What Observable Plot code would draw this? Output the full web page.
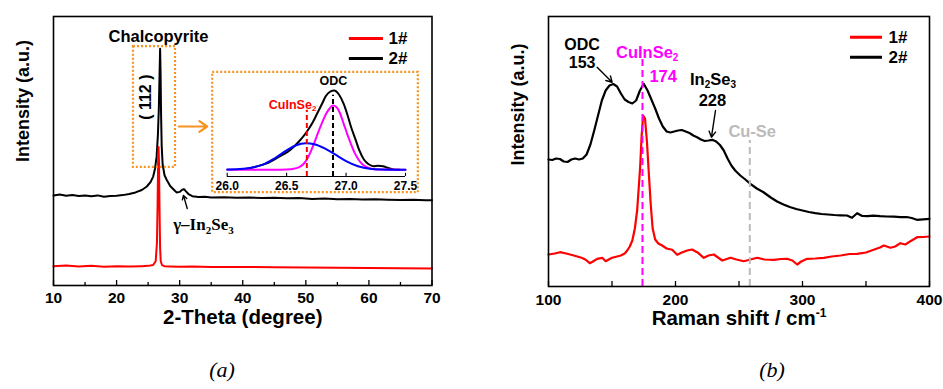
<!DOCTYPE html>
<html>
<head>
<meta charset="utf-8">
<script src="https://cdn.jsdelivr.net/npm/d3@7"></script>
<script src="https://cdn.jsdelivr.net/npm/@observablehq/plot@0.6"></script>
<style>
  html, body { margin: 0; padding: 0; background: white; }
  #wrap { position: relative; width: 943px; height: 389px; overflow: hidden; background: white; }
  #wrap svg { position: absolute; }
  .cap { position: absolute; font-family: "Liberation Serif", "Times New Roman", serif; font-style: italic; font-size: 22px; transform: translate(-50%, -50%); }
</style>
</head>
<body>
<div id="wrap"></div>
<script>
// ---------------- DATA ----------------
// (a) XRD, 2-Theta (degree) vs intensity (a.u.)
const xrd2X = [10,11,12,13,14,15,16,17,18,19,20,21,22,23,24,24.8,25.4,25.8,26.1,26.35,26.55,26.7,26.8,26.9,26.98,27.05,27.15,27.3,27.6,28.0,28.5,29.0,29.5,30.0,30.4,30.7,31.0,31.4,32,33,34,35,37,39,41,43,45,47,49,51,53,55,57,59,61,63,65,67,69,70];
const xrd2Y = [33.5,33.8,33.4,33.6,33.3,33.5,33.2,33.5,33.0,33.3,33.4,33.6,34.0,34.6,35.5,36.8,38.5,40.5,43.5,48,56,66,77,88,78,64,52,45,41,39,37,35.8,34.6,34.8,35.6,35.8,35.0,34.0,33.2,32.9,33.0,32.7,32.8,32.6,32.7,32.5,32.6,32.4,32.5,32.2,32.3,32.1,32.2,32.0,32.1,31.9,31.8,31.9,31.7,31.7];
const xrd1X = [10,12,14,16,18,20,22,24,25,25.8,26.2,26.4,26.5,26.58,26.65,26.72,26.8,26.9,27.0,27.2,27.6,28.5,30,32,35,40,45,50,55,60,65,70];
const xrd1Y = [7.2,7.4,7.1,7.3,7.0,7.2,7.1,7.2,7.3,7.6,9,16,30,45,51.5,46,30,14,9,7.6,7.2,7.1,7.0,7.1,6.9,6.9,6.8,6.7,6.6,6.5,6.4,6.3];
const xrdTicks = [10,20,30,40,50,60,70];
const xrdMinor = [15,25,35,45,55,65];

// (a) inset: peak fit 26.0 - 27.5
const fitX_black = [26.15,26.22,26.28,26.35,26.42,26.48,26.53,26.60,26.67,26.72,26.76,26.80,26.83,26.87,26.90,26.94,26.98,27.01,27.04,27.08,27.11,27.15,27.19,27.23,27.27,27.31,27.35,27.40,27.45];
const fitY_black = [0.01,0.03,0.055,0.09,0.15,0.20,0.25,0.35,0.48,0.60,0.72,0.84,0.93,0.99,1.00,0.95,0.83,0.70,0.55,0.38,0.25,0.13,0.07,0.045,0.05,0.045,0.025,0.005,0.0];
const fitX_odc = [26.0,26.4,26.5,26.56,26.60,26.64,26.67,26.70,26.73,26.76,26.80,26.83,26.86,26.89,26.92,26.95,26.98,27.01,27.04,27.07,27.10,27.13,27.17,27.22,27.30,27.5];
const fitY_odc = [0,0,0.003,0.012,0.03,0.07,0.13,0.22,0.33,0.45,0.60,0.70,0.77,0.81,0.79,0.71,0.58,0.45,0.33,0.22,0.14,0.08,0.035,0.01,0.002,0];
const fitX_cis = [26.0,26.1,26.2,26.3,26.4,26.5,26.58,26.66,26.74,26.82,26.9,27.0,27.1,27.2,27.3,27.4,27.5];
const fitY_cis = [0.004,0.01,0.026,0.065,0.145,0.245,0.31,0.335,0.32,0.27,0.20,0.11,0.045,0.012,0.003,0.001,0.0];
const insetTicks = [26.0,26.5,27.0,27.5];
const insetLines = [{x: 26.67, top: 0.75, color: "#ff0000"}, {x: 26.89, top: 0.94, color: "#000000"}];

// (b) Raman shift / cm-1 vs intensity (a.u.)
const ram2X = [100,103,106,109,112,115,118,121,124,127,130,133,136,139,142,145,148,151,154,157,160,163,166,169,172,175,178,181,184,187,190,193,196,199,202,205,208,211,214,217,220,223,226,229,232,235,238,241,244,247,251,255,259,264,269,275,280,285,290,295,300,305,310,315,320,325,330,335,339,343,347,351,356,361,366,372,377,382,386,390,395,400];
const ram2Y = [127,126.5,128,127.5,125,124.5,127,128,127,128,132,142,156,171,186,196,201,202.5,200,193,187,184.5,183,186,196,202.7,196,187,178,168,160,155,154,155,156,156.5,155,153.5,151,149.3,147,145.5,146,146.7,145,141.5,136,128,121,116,111,107,102.7,98,94.5,89,85,82,79.5,77.5,76,74.5,73.3,72.5,72,71.5,71.2,71,68.7,73.3,70.5,70.3,70.8,70.3,70,69.8,69.3,69.5,68.5,66.7,67.2,67.7];
const ram1X = [100,105,109,114,120,126,129,132.5,135,138.3,142.3,145,150,154,157,160,162,164,166,168,169.8,171,172.2,173.3,174.5,176,177.5,179,180.5,182,184,186.5,189.5,193,197.4,201.3,205,209.2,213,217.1,222.3,226,230.2,236.8,243.3,248,253.8,259,264.3,270,277.4,283,287.9,292,295.8,299,303.7,310,316.8,323,330,337,343,350,356,361,364,369.3,373,377,381,385,390.3,395,400];
const ram1Y = [32,33,34.3,33,31,28.7,27,23.3,25,27.7,28.7,25.3,28.7,30,31,33,36,40,46,58,76,98,120,150,171,168,145,113,82,58,47,43,41,38,36.7,31.7,34,36,37,34.3,28.7,31,32,26,28.7,27,25.3,27,28.7,27,26.7,27.5,27.7,26,22,25,27.7,28,28.7,30,31,32.5,32.7,34,36.7,39,41,38.7,40,43.3,42,45.3,49.3,49.5,50];
const ramTicks = [100,200,300,400];
const ramMinor = [150,250,350];
const ramLines = [{x: 174, top: 229, color: "#ff00ff"}, {x: 258.5, top: 146, color: "#bbbbbb"}];

const seriesNames = ["1#", "2#"];
const seriesColors = ["#ff0000", "#000000"];

// ---------------- HELPERS ----------------
const SANS = '"Liberation Sans", Arial, Helvetica, sans-serif';
const SERIF = '"Liberation Serif", "Times New Roman", serif';
const ORANGE = "#f7931e";
const ctx = document.createElement("canvas").getContext("2d");

// rich text: pieces [{t, s (subscript), S (superscript)}]
function rich(pieces, o) {
  const size = o.size, small = o.subSize ?? Math.round(size * 0.62);
  const fam = o.family ?? SANS, wt = o.weight ?? "bold", st = o.style ?? "normal";
  const ws = pieces.map(p => { ctx.font = `${st} ${wt} ${(p.s || p.S) ? small : size}px ${fam}`; return ctx.measureText(p.t).width; });
  const tot = d3.sum(ws);
  let off = o.anchor === "start" ? 0 : o.anchor === "end" ? -tot : -tot / 2;
  return pieces.map((p, i) => {
    const pos = o.frameAnchor ? {frameAnchor: o.frameAnchor} : {x: () => o.x, y: () => o.y};
    const m = Plot.text([p.t], {
      ...pos,
      text: d => d,
      textAnchor: "start",
      dx: (o.dx ?? 0) + off,
      dy: (o.dy ?? 0) + (p.s ? size * 0.33 : p.S ? -size * 0.38 : 0),
      fontSize: (p.s || p.S) ? small : size,
      fontFamily: fam, fontWeight: wt, fontStyle: st,
      fill: o.fill ?? "black"
    });
    off += ws[i];
    return m;
  });
}
const zip = (a, b) => a.map((v, i) => [v, b[i]]);

const wrap = document.getElementById("wrap");
function place(el, left, top) { el.style.left = left + "px"; el.style.top = top + "px"; wrap.appendChild(el); }

// ---------------- PANEL (a) ----------------
{
  const H = 340, mT = 16, mB = 55, ph = H - mT - mB;
  const yd = [0, 100];
  const perPx = (yd[1] - yd[0]) / ph;
  const plot = Plot.plot({
    width: 470, height: H, marginLeft: 53, marginRight: 38.5, marginTop: mT, marginBottom: mB,
    x: {domain: [10, 70]},
    y: {domain: yd, axis: null},
    style: {fontFamily: SANS, fontSize: "15.5px", fontWeight: "bold", background: "transparent", overflow: "visible", color: "black"},
    marks: [
      Plot.axisX(xrdTicks, {tickSize: 0, tickPadding: 6.5, label: null, tickFormat: d => String(d)}),
      Plot.ruleX(xrdTicks, {x: d => d, y1: yd[0], y2: yd[0] + 5 * perPx, stroke: "black", strokeWidth: 1.3}),
      Plot.ruleX(xrdMinor, {x: d => d, y1: yd[0], y2: yd[0] + 3 * perPx, stroke: "black", strokeWidth: 1.3}),
      Plot.line(zip(xrd2X, xrd2Y), {x: d => d[0], y: d => d[1], stroke: seriesColors[1], strokeWidth: 2}),
      Plot.line(zip(xrd1X, xrd1Y), {x: d => d[0], y: d => d[1], stroke: seriesColors[0], strokeWidth: 2}),
      Plot.frame({stroke: "black", strokeWidth: 1.6}),
      // peak box + arrow to inset
      Plot.rect([{x1: 22.68, x2: 29.34, y1: 43.9, y2: 88.8}], {x1: "x1", x2: "x2", y1: "y1", y2: "y2", fill: "none", stroke: ORANGE, strokeWidth: 2.2, strokeDasharray: "2,2"}),
      Plot.arrow([{x1: 29.86, x2: 34.36, y: 59.1}], {x1: "x1", x2: "x2", y1: "y", y2: "y", stroke: ORANGE, strokeWidth: 2.2, headLength: 8, headAngle: 70}),
      Plot.text(["Chalcopyrite"], {x: () => 26.64, y: () => 92.6, fontSize: 16.5, fontWeight: "bold", fontFamily: SANS}),
      Plot.text(["( 112 )"], {x: () => 24.66, y: () => 70.0, rotate: -90, fontSize: 16, fontWeight: "bold", fontFamily: SANS}),
      // gamma-In2Se3 annotation
      Plot.arrow([{x1: 31.2, y1: 28.6, x2: 30.6, y2: 33.5}], {x1: "x1", y1: "y1", x2: "x2", y2: "y2", stroke: "black", strokeWidth: 1.4, headLength: 7}),
      ...rich([{t: "\u03b3\u2013In"}, {t: "2", s: 1}, {t: "Se"}, {t: "3", s: 1}], {x: 28.97, y: 22.5, anchor: "start", size: 17, subSize: 11, family: SERIF}),
      // legend
      Plot.ruleY([91.8, 84.4], {y: d => d, x1: 56.9, x2: 62.3, stroke: (d, i) => seriesColors[i], strokeWidth: 3}),
      Plot.text(seriesNames, {x: () => 63.1, y: (d, i) => [91.8, 84.4][i], textAnchor: "start", fontSize: 17, fontWeight: "bold", fontFamily: SANS}),
      // titles
      Plot.text(["2-Theta (degree)"], {frameAnchor: "bottom", dy: 38.5, fontSize: 20.5, fontWeight: "bold", fontFamily: SANS}),
      Plot.text(["Intensity (a.u.)"], {frameAnchor: "left", dx: -30, dy: 11, rotate: -90, fontSize: 18, fontWeight: "bold", fontFamily: SANS})
    ]
  });
  place(plot, 0, 0);
}

// ---------------- INSET ----------------
{
  const plot = Plot.plot({
    width: 220, height: 135, marginLeft: 21.7, marginRight: 20, marginTop: 17.1, marginBottom: 24,
    x: {domain: [26.0, 27.5]},
    y: {domain: [-0.085, 1.1], axis: null},
    style: {fontFamily: SANS, fontSize: "12px", fontWeight: "bold", background: "transparent", overflow: "visible", color: "black"},
    marks: [
      Plot.frame({stroke: ORANGE, strokeWidth: 2.2, strokeDasharray: "2,2", insetLeft: -15, insetRight: -12.3, insetTop: -10.8, insetBottom: -15.7}),
      Plot.ruleY([-0.085], {x1: 26.0, x2: 27.5, stroke: "black", strokeWidth: 1.1}),
      Plot.ruleX(insetTicks, {x: d => d, y1: -0.085, y2: -0.045, stroke: "black", strokeWidth: 1.1}),
      Plot.axisX(insetTicks, {tickSize: 0, tickPadding: 5, label: null, tickFormat: d3.format(".1f")}),
      Plot.line(zip(fitX_black, fitY_black), {x: d => d[0], y: d => d[1], stroke: "black", strokeWidth: 2, curve: "monotone-x"}),
      Plot.line(zip(fitX_odc, fitY_odc), {x: d => d[0], y: d => d[1], stroke: "#ff00ff", strokeWidth: 2, curve: "monotone-x"}),
      Plot.line(zip(fitX_cis, fitY_cis), {x: d => d[0], y: d => d[1], stroke: "#0000ff", strokeWidth: 2, curve: "monotone-x"}),
      Plot.ruleX(insetLines, {x: "x", y1: -0.085, y2: "top", stroke: "color", strokeWidth: 2, strokeDasharray: "5,3"}),
      Plot.text(["ODC"], {x: () => 26.894, y: () => 1.126, fontSize: 12.5, fontWeight: "bold", fontFamily: SANS}),
      ...rich([{t: "CuInSe"}, {t: "2", s: 1}], {x: 26.55, y: 0.82, size: 12.5, subSize: 8, fill: "#ff0000"})
    ]
  });
  place(plot, 205, 65);
}

// ---------------- PANEL (b) ----------------
{
  const H = 340, mT = 16, mB = 54, ph = H - mT - mB;
  const yd = [0, 270];
  const perPx = (yd[1] - yd[0]) / ph;
  const plot = Plot.plot({
    width: 463, height: H, marginLeft: 68, marginRight: 14, marginTop: mT, marginBottom: mB,
    x: {domain: [100, 400]},
    y: {domain: yd, axis: null},
    style: {fontFamily: SANS, fontSize: "15.5px", fontWeight: "bold", background: "transparent", overflow: "visible", color: "black"},
    marks: [
      Plot.axisX(ramTicks, {tickSize: 0, tickPadding: 7, label: null, tickFormat: d => String(d)}),
      Plot.ruleX(ramTicks, {x: d => d, y1: yd[0], y2: yd[0] + 5 * perPx, stroke: "black", strokeWidth: 1.3}),
      Plot.ruleX(ramMinor, {x: d => d, y1: yd[0], y2: yd[0] + 5 * perPx, stroke: "black", strokeWidth: 1.3}),
      Plot.line(zip(ram2X, ram2Y), {x: d => d[0], y: d => d[1], stroke: seriesColors[1], strokeWidth: 2.2}),
      Plot.line(zip(ram1X, ram1Y), {x: d => d[0], y: d => d[1], stroke: seriesColors[0], strokeWidth: 2.2}),
      Plot.ruleX(ramLines, {x: "x", y1: 0, y2: "top", stroke: "color", strokeWidth: 2, strokeDasharray: "7,4"}),
      Plot.frame({stroke: "black", strokeWidth: 1.6}),
      // annotations
      Plot.text(["ODC", "153"], {x: () => 126.5, y: (d, i) => [241.5, 223.5][i], fontSize: 16, fontWeight: "bold", fontFamily: SANS}),
      Plot.arrow([{x1: 138.3, y1: 219.3, x2: 150.1, y2: 204.3}], {x1: "x1", y1: "y1", x2: "x2", y2: "y2", stroke: "black", strokeWidth: 1.4, headLength: 7}),
      ...rich([{t: "CuInSe"}, {t: "2", s: 1}], {x: 177.7, y: 234, size: 16.5, subSize: 10, fill: "#ff00ff"}),
      Plot.text(["174"], {x: () => 190.3, y: () => 210, fontSize: 16.5, fontWeight: "bold", fontFamily: SANS, fill: "#ff00ff"}),
      ...rich([{t: "In"}, {t: "2", s: 1}, {t: "Se"}, {t: "3", s: 1}], {x: 229.5, y: 207, size: 16.5, subSize: 10}),
      Plot.text(["228"], {x: () => 229.1, y: () => 185.3, fontSize: 16.5, fontWeight: "bold", fontFamily: SANS}),
      Plot.arrow([{x1: 231.5, y1: 176, x2: 228.3, y2: 149.3}], {x1: "x1", y1: "y1", x2: "x2", y2: "y2", stroke: "black", strokeWidth: 1.4, headLength: 7}),
      Plot.text(["Cu-Se"], {x: () => 260.4, y: () => 154.3, fontSize: 16.5, fontWeight: "bold", fontFamily: SANS, fill: "#bbbbbb"}),
      // legend
      Plot.ruleY([249.3, 229.3], {y: d => d, x1: 337.8, x2: 363, stroke: (d, i) => seriesColors[i], strokeWidth: 3}),
      Plot.text(seriesNames, {x: () => 367.7, y: (d, i) => [249.3, 229.3][i], textAnchor: "start", fontSize: 17, fontWeight: "bold", fontFamily: SANS}),
      // titles
      ...rich([{t: "Raman shift / cm"}, {t: "-1", S: 1}], {frameAnchor: "bottom", dy: 38.5, size: 20.5, subSize: 12}),
      Plot.text(["Intensity (a.u.)"], {frameAnchor: "left", dx: -30, dy: 14, rotate: -90, fontSize: 18, fontWeight: "bold", fontFamily: SANS})
    ]
  });
  place(plot, 480, 0);
}

// captions
for (const [t, x] of [["(a)", 222], ["(b)", 772]]) {
  const d = document.createElement("div");
  d.className = "cap"; d.textContent = t;
  d.style.left = x + "px"; d.style.top = "370px";
  wrap.appendChild(d);
}
</script>
</body>
</html>
